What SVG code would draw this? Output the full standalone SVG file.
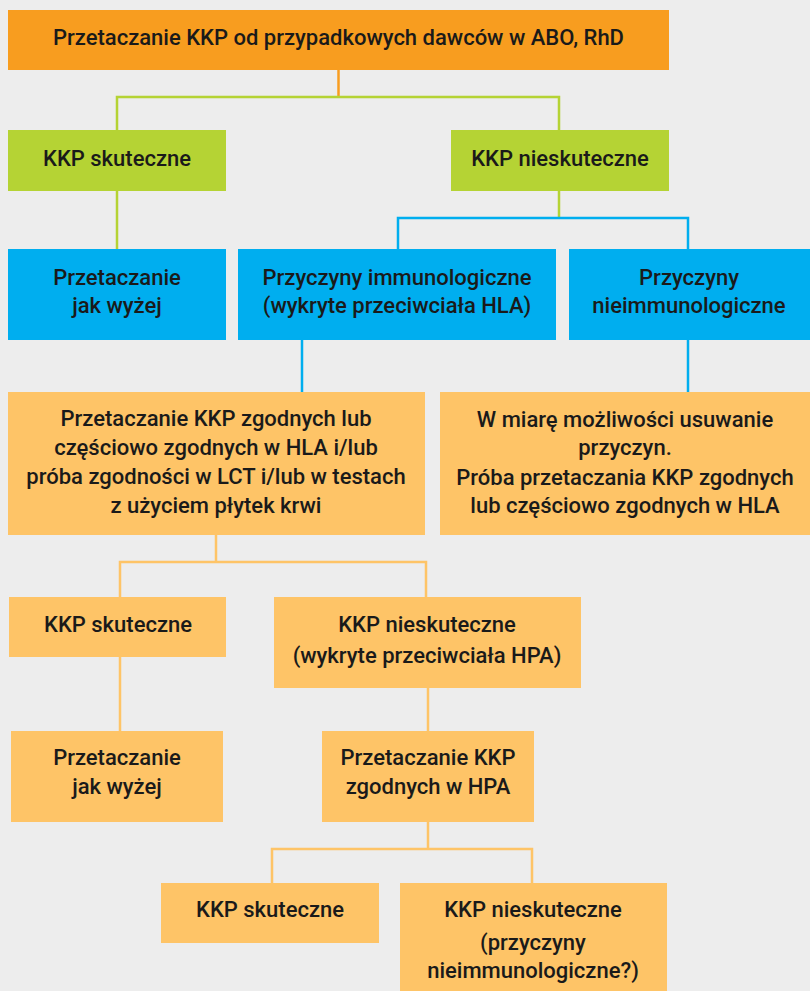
<svg xmlns="http://www.w3.org/2000/svg" width="810" height="991" viewBox="0 0 810 991">
<style>
  text { font-family: Roboto, "Liberation Sans", Arial, sans-serif; font-weight: 500; font-size: 22px; fill: #1a1a1a; text-anchor: middle; }
  .orange { fill: #f89d1f; }
  .green { fill: #b5d334; }
  .blue { fill: #00aeef; }
  .light { fill: #fec467; }
  .conn { fill: none; stroke-width: 2.5; }
  .c-orange { stroke: #f89d1f; }
  .c-green { stroke: #b5d334; }
  .c-blue { stroke: #00aeef; }
  .c-light { stroke: #fec467; }
</style>
<rect width="810" height="991" fill="#ededed"/>
<g id="connectors">
  <path class="conn c-orange" d="M338.5 70 V97"/>
  <path class="conn c-green" d="M117 130 V97 H559 V130"/>
  <path class="conn c-green" d="M117 191 V249"/>
  <path class="conn c-green" d="M559 191 V218"/>
  <path class="conn c-blue" d="M398 249 V218 H688 V249"/>
  <path class="conn c-blue" d="M302 340 V392"/>
  <path class="conn c-blue" d="M688 340 V392"/>
  <path class="conn c-light" d="M216 535 V562"/>
  <path class="conn c-light" d="M120 597 V562 H426 V597"/>
  <path class="conn c-light" d="M120 657 V731"/>
  <path class="conn c-light" d="M428 688 V731"/>
  <path class="conn c-light" d="M428 822 V849"/>
  <path class="conn c-light" d="M272 883 V849 H532 V883"/>
</g>
<g id="root">
  <rect class="orange" x="8" y="10" width="661" height="60"/>
  <text x="338.5" y="45">Przetaczanie KKP od przypadkowych dawców w ABO, RhD</text>
</g>
<g id="skuteczne1">
  <rect class="green" x="8" y="130" width="218" height="61"/>
  <text x="117" y="166">KKP skuteczne</text>
</g>
<g id="nieskuteczne1">
  <rect class="green" x="451" y="130" width="218" height="61"/>
  <text x="560" y="166">KKP nieskuteczne</text>
</g>
<g id="jakwyzej1">
  <rect class="blue" x="8" y="249" width="218" height="91"/>
  <text x="117" y="285">Przetaczanie</text>
  <text x="117" y="313">jak wyżej</text>
</g>
<g id="immuno">
  <rect class="blue" x="238" y="249" width="318" height="91"/>
  <text x="397" y="285">Przyczyny immunologiczne</text>
  <text x="397" y="313">(wykryte przeciwciała HLA)</text>
</g>
<g id="nieimmuno">
  <rect class="blue" x="569" y="249" width="241" height="91"/>
  <text x="689" y="285">Przyczyny</text>
  <text x="689" y="313">nieimmunologiczne</text>
</g>
<g id="hla">
  <rect class="light" x="8" y="392" width="417" height="143"/>
  <text x="216" y="426">Przetaczanie KKP zgodnych lub</text>
  <text x="216" y="455">częściowo zgodnych w HLA i/lub</text>
  <text x="216" y="484">próba zgodności w LCT i/lub w testach</text>
  <text x="216" y="513">z użyciem płytek krwi</text>
</g>
<g id="usuwanie">
  <rect class="light" x="440" y="392" width="370" height="143"/>
  <text x="625" y="427">W miarę możliwości usuwanie</text>
  <text x="625" y="455">przyczyn.</text>
  <text x="625" y="485">Próba przetaczania KKP zgodnych</text>
  <text x="625" y="513">lub częściowo zgodnych w HLA</text>
</g>
<g id="skuteczne2">
  <rect class="light" x="9" y="597" width="217" height="60"/>
  <text x="118" y="632">KKP skuteczne</text>
</g>
<g id="hpa">
  <rect class="light" x="274" y="597" width="307" height="91"/>
  <text x="427" y="632">KKP nieskuteczne</text>
  <text x="427" y="663">(wykryte przeciwciała HPA)</text>
</g>
<g id="jakwyzej2">
  <rect class="light" x="11" y="731" width="212" height="91"/>
  <text x="117" y="765">Przetaczanie</text>
  <text x="117" y="794">jak wyżej</text>
</g>
<g id="zgodnehpa">
  <rect class="light" x="322" y="731" width="212" height="91"/>
  <text x="428" y="765">Przetaczanie KKP</text>
  <text x="428" y="794">zgodnych w HPA</text>
</g>
<g id="skuteczne3">
  <rect class="light" x="161" y="883" width="218" height="60"/>
  <text x="270" y="917">KKP skuteczne</text>
</g>
<g id="nieskuteczne3">
  <rect class="light" x="400" y="883" width="267" height="108"/>
  <text x="533" y="917">KKP nieskuteczne</text>
  <text x="533" y="950">(przyczyny</text>
  <text x="533" y="978">nieimmunologiczne?)</text>
</g>
</svg>
